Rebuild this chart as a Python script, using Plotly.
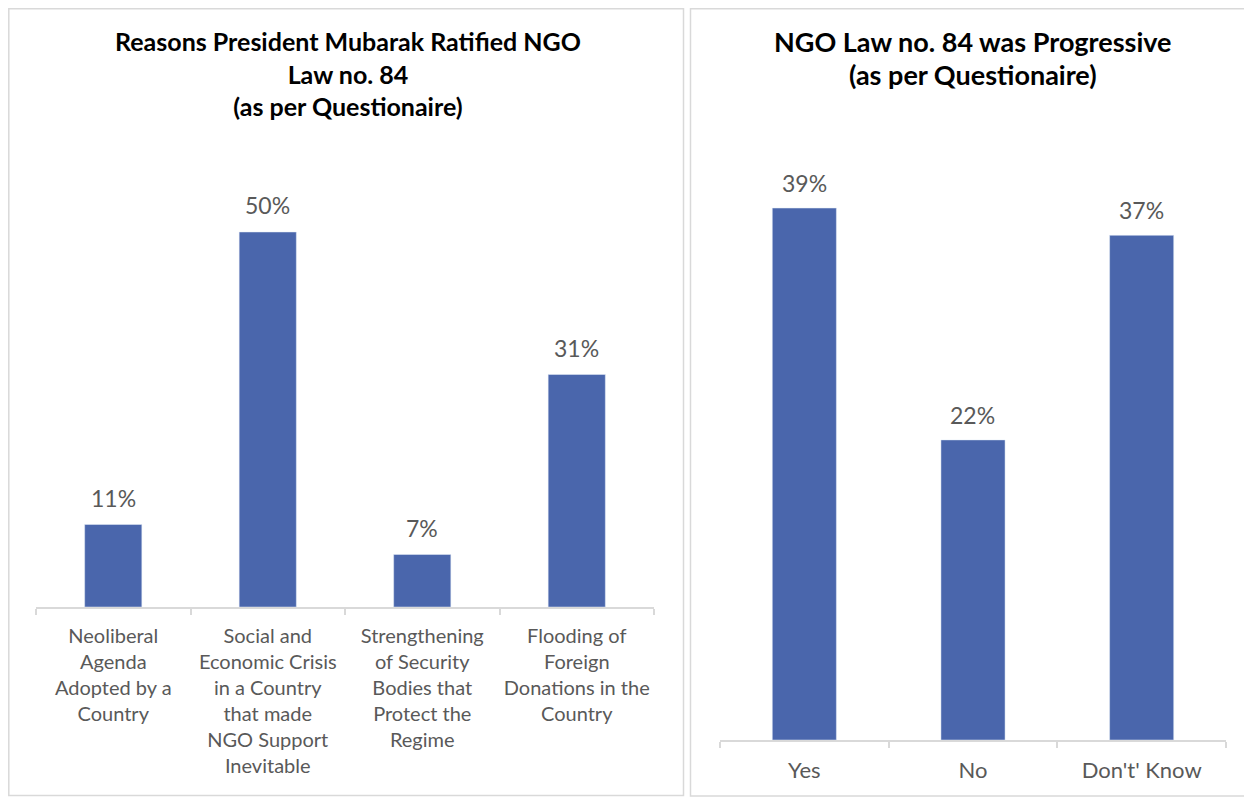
import plotly.graph_objects as go

W, H = 1252, 800
OFF = 8  # page body margin in the browser

# Left chart data
left_title_lines = ["Reasons President Mubarak Ratified NGO", "Law no. 84", "(as per Questionaire)"]
left_categories = [
    "Neoliberal<br>Agenda<br>Adopted by a<br>Country",
    "Social and<br>Economic Crisis<br>in a Country<br>that made<br>NGO Support<br>Inevitable",
    "Strengthening<br>of Security<br>Bodies that<br>Protect the<br>Regime",
    "Flooding of<br>Foreign<br>Donations in the<br>Country",
]
left_values = [11, 50, 7, 31]

# Right chart data
right_title_lines = ["NGO Law no. 84 was Progressive", "(as per Questionaire)"]
right_categories = ["Yes", "No", "Don't' Know"]
right_values = [39, 22, 37]

BAR = "#4a66ac"
GREY_TXT = "#595959"
LINE = "#d9d9d9"
FONT = "Lato"

def px_x(p):
    return (p - OFF) / W

def px_y(p):
    return 1 - (p - OFF) / H

fig = go.Figure()
fig.add_trace(go.Bar(x=left_categories, y=left_values, marker_color=BAR,
                     xaxis="x", yaxis="y", hoverinfo="skip", width=0.37))
fig.add_trace(go.Bar(x=right_categories, y=right_values, marker_color=BAR,
                     xaxis="x2", yaxis="y2", hoverinfo="skip", width=0.38))

annotations = []
for c, v in zip(left_categories, left_values):
    annotations.append(dict(x=c, y=v, xref="x", yref="y", text=f"{v}%",
                            showarrow=False, yanchor="middle", yshift=27,
                            font=dict(family=FONT, size=23, color=GREY_TXT)))
for c, v in zip(right_categories, right_values):
    annotations.append(dict(x=c, y=v, xref="x2", yref="y2", text=f"{v}%",
                            showarrow=False, yanchor="middle", yshift=25,
                            font=dict(family=FONT, size=23, color=GREY_TXT)))

annotations.append(dict(x=px_x(348), y=px_y(73), xref="paper", yref="paper",
                        text="<b>" + "<br>".join(left_title_lines) + "</b>",
                        showarrow=False, xanchor="center", yanchor="middle",
                        font=dict(family=FONT, size=25, color="#000000")))
for line, yc in zip(right_title_lines, [42, 74]):
    annotations.append(dict(x=px_x(973), y=px_y(yc), xref="paper", yref="paper",
                            text=f"<b>{line}</b>", showarrow=False,
                            xanchor="center", yanchor="middle",
                            font=dict(family=FONT, size=27, color="#000000")))

shapes = [
    dict(type="rect", xref="paper", yref="paper", x0=px_x(8.8), x1=px_x(683.5),
         y0=px_y(8.8), y1=px_y(795.5), line=dict(color=LINE, width=1.5)),
    dict(type="rect", xref="paper", yref="paper", x0=px_x(690.5), x1=px_x(1251),
         y0=px_y(8.8), y1=px_y(796), line=dict(color=LINE, width=1.5)),
]

def xaxis_style(size):
    return dict(type="category", showgrid=False, showline=True, linecolor=LINE,
                linewidth=1.5, ticks="outside", tickson="boundaries", ticklen=6,
                tickcolor=LINE, tickwidth=1.5, ticklabelstandoff=10, tickangle=0,
                tickfont=dict(family=FONT, size=size, color=GREY_TXT), fixedrange=True)

fig.update_layout(
    width=W, height=H, margin=dict(l=0, r=0, t=0, b=0),
    paper_bgcolor="white", plot_bgcolor="white", showlegend=False,
    xaxis=dict(domain=[px_x(36), px_x(654)], anchor="y", **xaxis_style(20)),
    yaxis=dict(domain=[px_y(607), px_y(150)], range=[0, (607 - 150) / 7.5],
               visible=False, anchor="x", fixedrange=True),
    xaxis2=dict(domain=[px_x(720), px_x(1226)], anchor="y2", **xaxis_style(22)),
    yaxis2=dict(domain=[px_y(740), px_y(150)], range=[0, (740 - 150) / 13.64],
                visible=False, anchor="x2", fixedrange=True),
    annotations=annotations, shapes=shapes,
)

fig.write_html("out.html", config={"displayModeBar": False})
